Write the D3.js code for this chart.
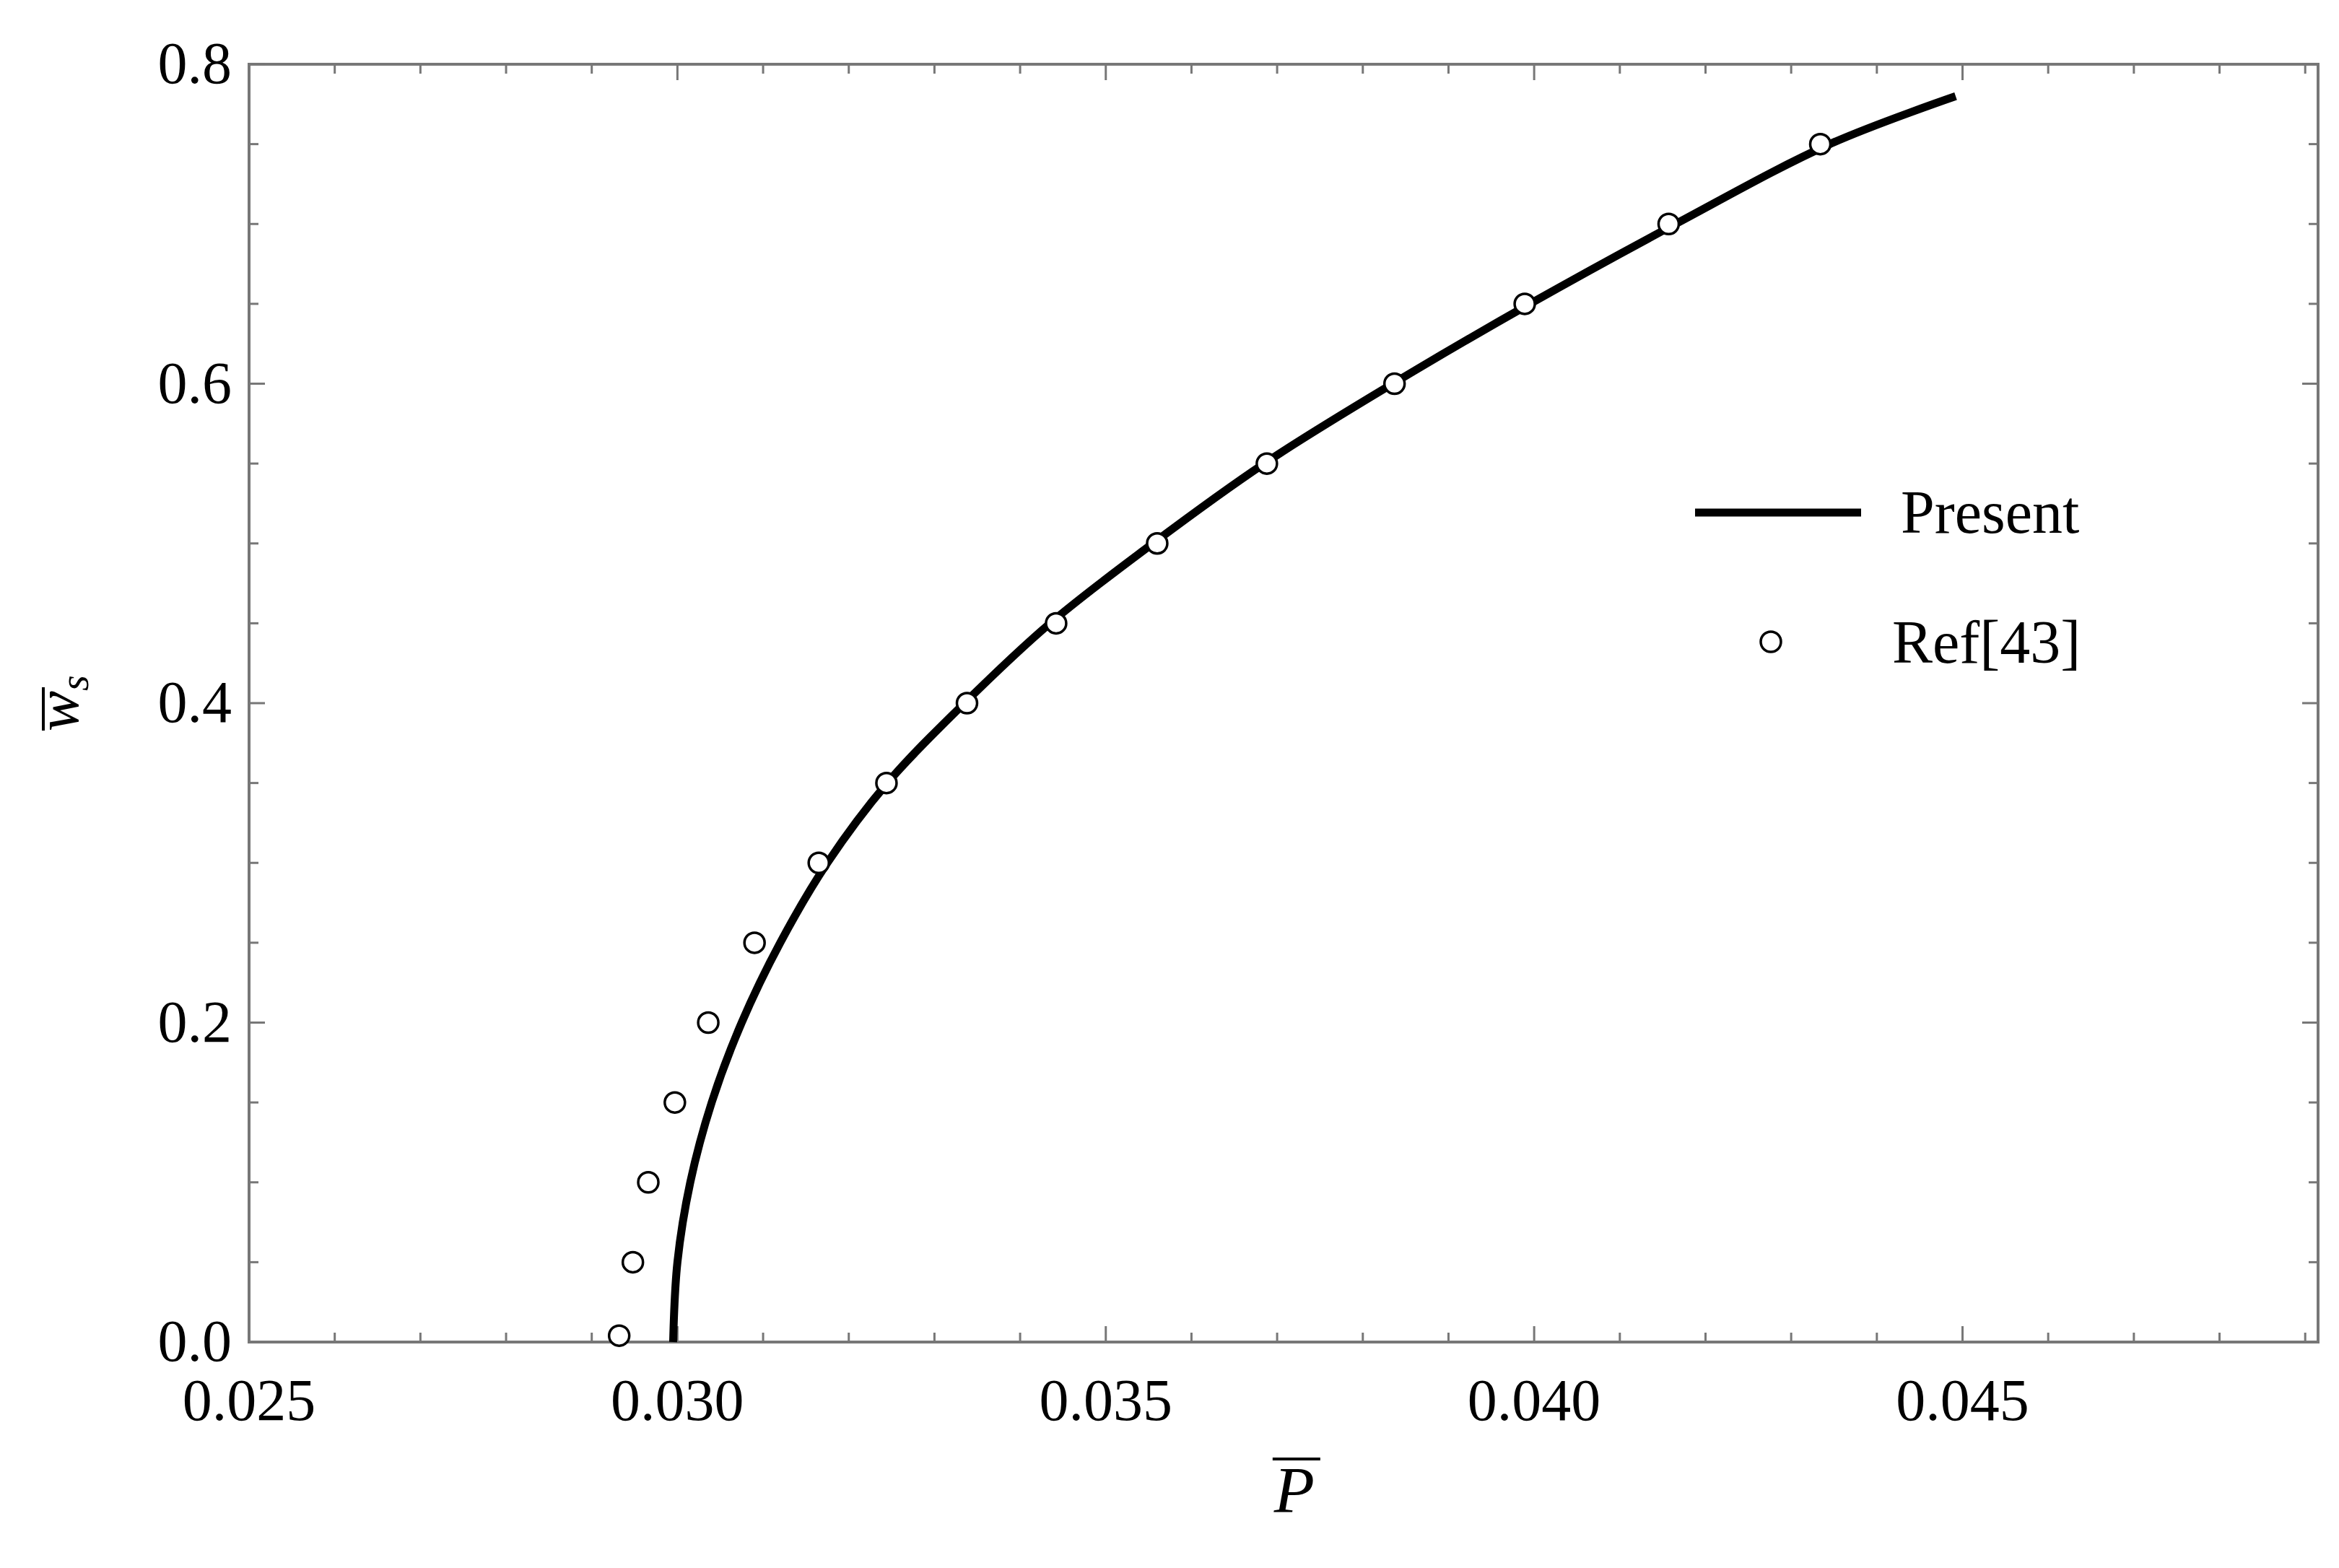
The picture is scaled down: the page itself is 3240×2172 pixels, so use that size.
<!DOCTYPE html>
<html>
<head>
<meta charset="utf-8">
<script src="https://cdn.jsdelivr.net/npm/d3@7"></script>
<style>
  body { margin: 0; background: #fff; }
  text { font-family: "Liberation Serif", "DejaVu Serif", serif; fill: #000; }
</style>
</head>
<body>
<svg id="chart"></svg>
<script>
// Present (solid line)
const presentP = [0.02995, 0.0300, 0.03015, 0.0304, 0.03075, 0.0312, 0.03175, 0.03245, 0.03335, 0.03435, 0.03555, 0.03685, 0.03835, 0.03995, 0.04165, 0.04345, 0.04492]
const presentW = [0, 0.05, 0.1, 0.15, 0.2, 0.25, 0.3, 0.35, 0.4, 0.45, 0.5, 0.55, 0.6, 0.65, 0.7, 0.75, 0.78]
// Ref[43] (circles)
const refP = [0.02932, 0.02948, 0.02966, 0.02997, 0.03036, 0.0309, 0.03165, 0.03244, 0.03338, 0.03442, 0.0356, 0.03688, 0.03837, 0.03989, 0.04157, 0.04334]
const refW = [0.004, 0.05, 0.10, 0.15, 0.20, 0.25, 0.30, 0.35, 0.40, 0.45, 0.50, 0.55, 0.60, 0.65, 0.70, 0.75]
const xTicks = [0.025, 0.030, 0.035, 0.040, 0.045]
const yTicks = [0.0, 0.2, 0.4, 0.6, 0.8]

const W = 3240, H = 2172
const m = { left: 345, right: 3211, top: 89, bottom: 1859 }

const svg = d3.select('#chart').attr('width', W).attr('height', H)

const x = d3.scaleLinear().domain([0.025, 0.04915]).range([m.left, m.right])
const y = d3.scaleLinear().domain([0, 0.8]).range([m.bottom, m.top])

const frameColor = '#777'
const xMinor = d3.range(0.025, 0.0491, 0.001)
const yMinor = d3.range(0, 0.8001, 0.05)

// frame
svg.append('rect')
    .attr('x', m.left).attr('y', m.top)
    .attr('width', m.right - m.left).attr('height', m.bottom - m.top)
    .attr('fill', 'none').attr('stroke', frameColor).attr('stroke-width', 4)

const tickG = svg.append('g').attr('stroke', frameColor).attr('stroke-width', 3)
xMinor.forEach(v => {
    const len = xTicks.some(t => Math.abs(t - v) < 1e-6) ? 22 : 13
    tickG.append('line').attr('x1', x(v)).attr('x2', x(v)).attr('y1', m.bottom).attr('y2', m.bottom - len)
    tickG.append('line').attr('x1', x(v)).attr('x2', x(v)).attr('y1', m.top).attr('y2', m.top + len)
})
yMinor.forEach(v => {
    const len = yTicks.some(t => Math.abs(t - v) < 1e-6) ? 22 : 13
    tickG.append('line').attr('y1', y(v)).attr('y2', y(v)).attr('x1', m.left).attr('x2', m.left + len)
    tickG.append('line').attr('y1', y(v)).attr('y2', y(v)).attr('x1', m.right).attr('x2', m.right - len)
})

svg.selectAll('.xl').data(xTicks).enter().append('text')
    .attr('x', d => x(d)).attr('y', m.bottom + 108)
    .attr('text-anchor', 'middle').attr('font-size', 82)
    .text(d => d.toFixed(3))
svg.selectAll('.yl').data(yTicks).enter().append('text')
    .attr('x', m.left - 24).attr('y', d => y(d) + 26)
    .attr('text-anchor', 'end').attr('font-size', 82)
    .text(d => d.toFixed(1))

// axis titles
const xt = svg.append('g').attr('transform', `translate(${x(0.0372)},2095)`)
xt.append('text').attr('text-anchor', 'middle').attr('font-size', 92).attr('font-style', 'italic').text('P')
xt.append('line').attr('x1', -30).attr('x2', 36).attr('y1', -74).attr('y2', -74).attr('stroke', '#000').attr('stroke-width', 4)

const yt = svg.append('g').attr('transform', `translate(108,${y(0.4)}) rotate(-90)`)
yt.append('text').attr('text-anchor', 'middle').attr('font-size', 84).attr('font-style', 'italic')
    .text('w').append('tspan').attr('font-size', 56).attr('dy', 14).text('s')
yt.append('line').attr('x1', -38).attr('x2', 22).attr('y1', -48).attr('y2', -48).attr('stroke', '#000').attr('stroke-width', 4)

// present line
const line = d3.line().x(d => x(d[0])).y(d => y(d[1])).curve(d3.curveCatmullRom.alpha(0.5))
svg.append('path')
    .datum(presentP.map((p, i) => [p, presentW[i]]))
    .attr('d', line).attr('fill', 'none').attr('stroke', '#000').attr('stroke-width', 11)

// reference circles
svg.selectAll('.ref').data(refP.map((p, i) => [p, refW[i]])).enter().append('circle')
    .attr('cx', d => x(d[0])).attr('cy', d => y(d[1])).attr('r', 14)
    .attr('fill', '#fff').attr('stroke', '#000').attr('stroke-width', 3.5)

// legend
svg.append('line').attr('x1', 2348).attr('x2', 2578).attr('y1', 710).attr('y2', 710)
    .attr('stroke', '#000').attr('stroke-width', 11)
svg.append('text').attr('x', 2633).attr('y', 738).attr('font-size', 84).text('Present')
svg.append('circle').attr('cx', 2453).attr('cy', 889).attr('r', 14)
    .attr('fill', '#fff').attr('stroke', '#000').attr('stroke-width', 3.5)
svg.append('text').attr('x', 2621).attr('y', 918).attr('font-size', 84).text('Ref[43]')
</script>
</body>
</html>
